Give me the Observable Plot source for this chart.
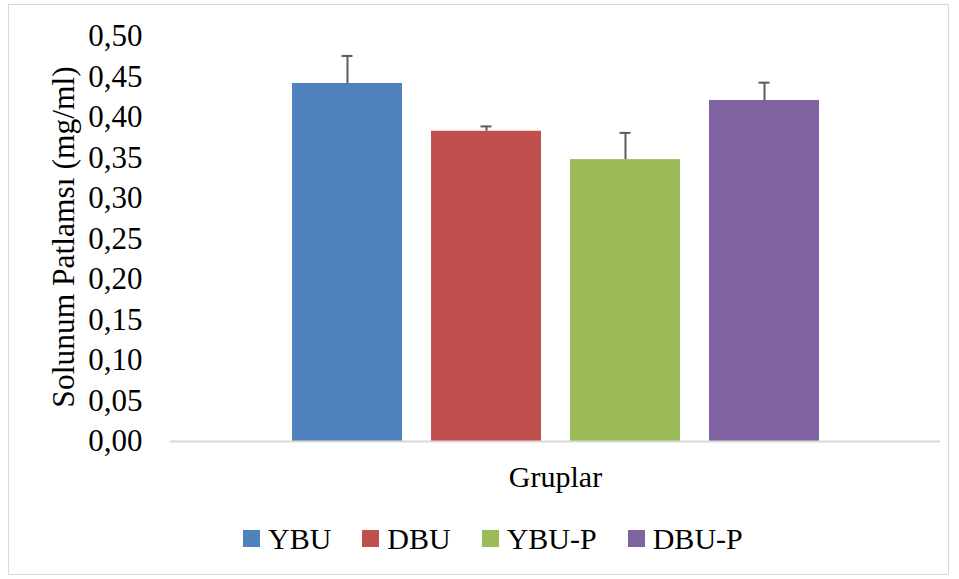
<!DOCTYPE html>
<html>
<head>
<meta charset="utf-8">
<script src="https://cdn.jsdelivr.net/npm/d3@7"></script>
<script src="https://cdn.jsdelivr.net/npm/@observablehq/plot@0.6"></script>
<style>
  html, body { margin: 0; padding: 0; background: #fff; }
  #wrap { position: relative; width: 959px; height: 579px; font-family: "Liberation Serif", "Times New Roman", serif; }
  #border { position: absolute; left: 8px; top: 4px; width: 941px; height: 571px; border: 1px solid #d9d9d9; box-sizing: border-box; }
  #chart { position: absolute; left: 0; top: 0; }
  #ylabel { position: absolute; left: 64px; top: 237px; transform: translate(-50%, -50%) rotate(-90deg); white-space: nowrap; font-size: 31.5px; line-height: 1; color: #000; }
  #legend { position: absolute; left: 243px; top: 521px; display: flex; align-items: center; font-size: 30px; line-height: 35px; color: #000; }
  .item { display: flex; align-items: center; margin-right: 31px; }
  .sw { width: 17px; height: 17px; margin-right: 8px; }
</style>
</head>
<body>
<div id="wrap">
  <div id="border"></div>
  <div id="chart"></div>
  <div id="ylabel"></div>
  <div id="legend"></div>
</div>
<script>
const groups = ["YBU", "DBU", "YBU-P", "DBU-P"];
const values = [0.442, 0.383, 0.348, 0.421];
const errors = [0.034, 0.006, 0.033, 0.022];
const colors = ["#4f81bd", "#c0504d", "#9bbb59", "#8064a2"];
const yTicks = [0, 0.05, 0.10, 0.15, 0.20, 0.25, 0.30, 0.35, 0.40, 0.45, 0.50];
const yLabel = "Solunum Patlamsı (mg/ml)";
const xLabel = "Gruplar";

const data = groups.map((g, i) => ({group: g, value: values[i], err: errors[i], top: values[i] + errors[i]}));

const fmt = d => d.toFixed(2).replace(".", ",");
const font = "'Liberation Serif', 'Times New Roman', serif";

const chart = Plot.plot({
  width: 959,
  height: 500,
  marginLeft: 170,
  marginRight: 19,
  marginTop: 36,
  marginBottom: 59,
  style: "font-family: 'Liberation Serif', 'Times New Roman', serif; font-size: 31px; color: #000; background: transparent; overflow: visible;",
  x: {domain: groups, paddingInner: 0.21, paddingOuter: 0.861, axis: null},
  y: {domain: [0, 0.5], axis: null},
  color: {domain: groups, range: colors},
  marks: [
    Plot.barY(data, {x: "group", y: "value", fill: "group"}),
    Plot.ruleY([0], {stroke: "#d9d9d9", strokeWidth: 2}),
    Plot.ruleX(data, {x: "group", y1: "value", y2: "top", stroke: "#5a5a5a", strokeWidth: 2}),
    Plot.tickY(data, {x: "group", y: "top", stroke: "#5a5a5a", strokeWidth: 2, insetLeft: 49.5, insetRight: 49.5}),
    Plot.axisY({ticks: yTicks, tickFormat: fmt, tickSize: 0, tickPadding: 28, fontSize: 31, fontFamily: font, fill: "#000", label: null}),
    Plot.text([xLabel], {frameAnchor: "bottom", dy: 45, fontSize: 30, fontFamily: font, fill: "#000"})
  ]
});
document.getElementById("chart").appendChild(chart);
document.getElementById("ylabel").textContent = yLabel;

const legend = document.getElementById("legend");
groups.forEach((g, i) => {
  const item = document.createElement("div");
  item.className = "item";
  const sw = document.createElement("div");
  sw.className = "sw";
  sw.style.background = colors[i];
  const t = document.createElement("span");
  t.textContent = g;
  item.appendChild(sw);
  item.appendChild(t);
  legend.appendChild(item);
});
</script>
</body>
</html>
